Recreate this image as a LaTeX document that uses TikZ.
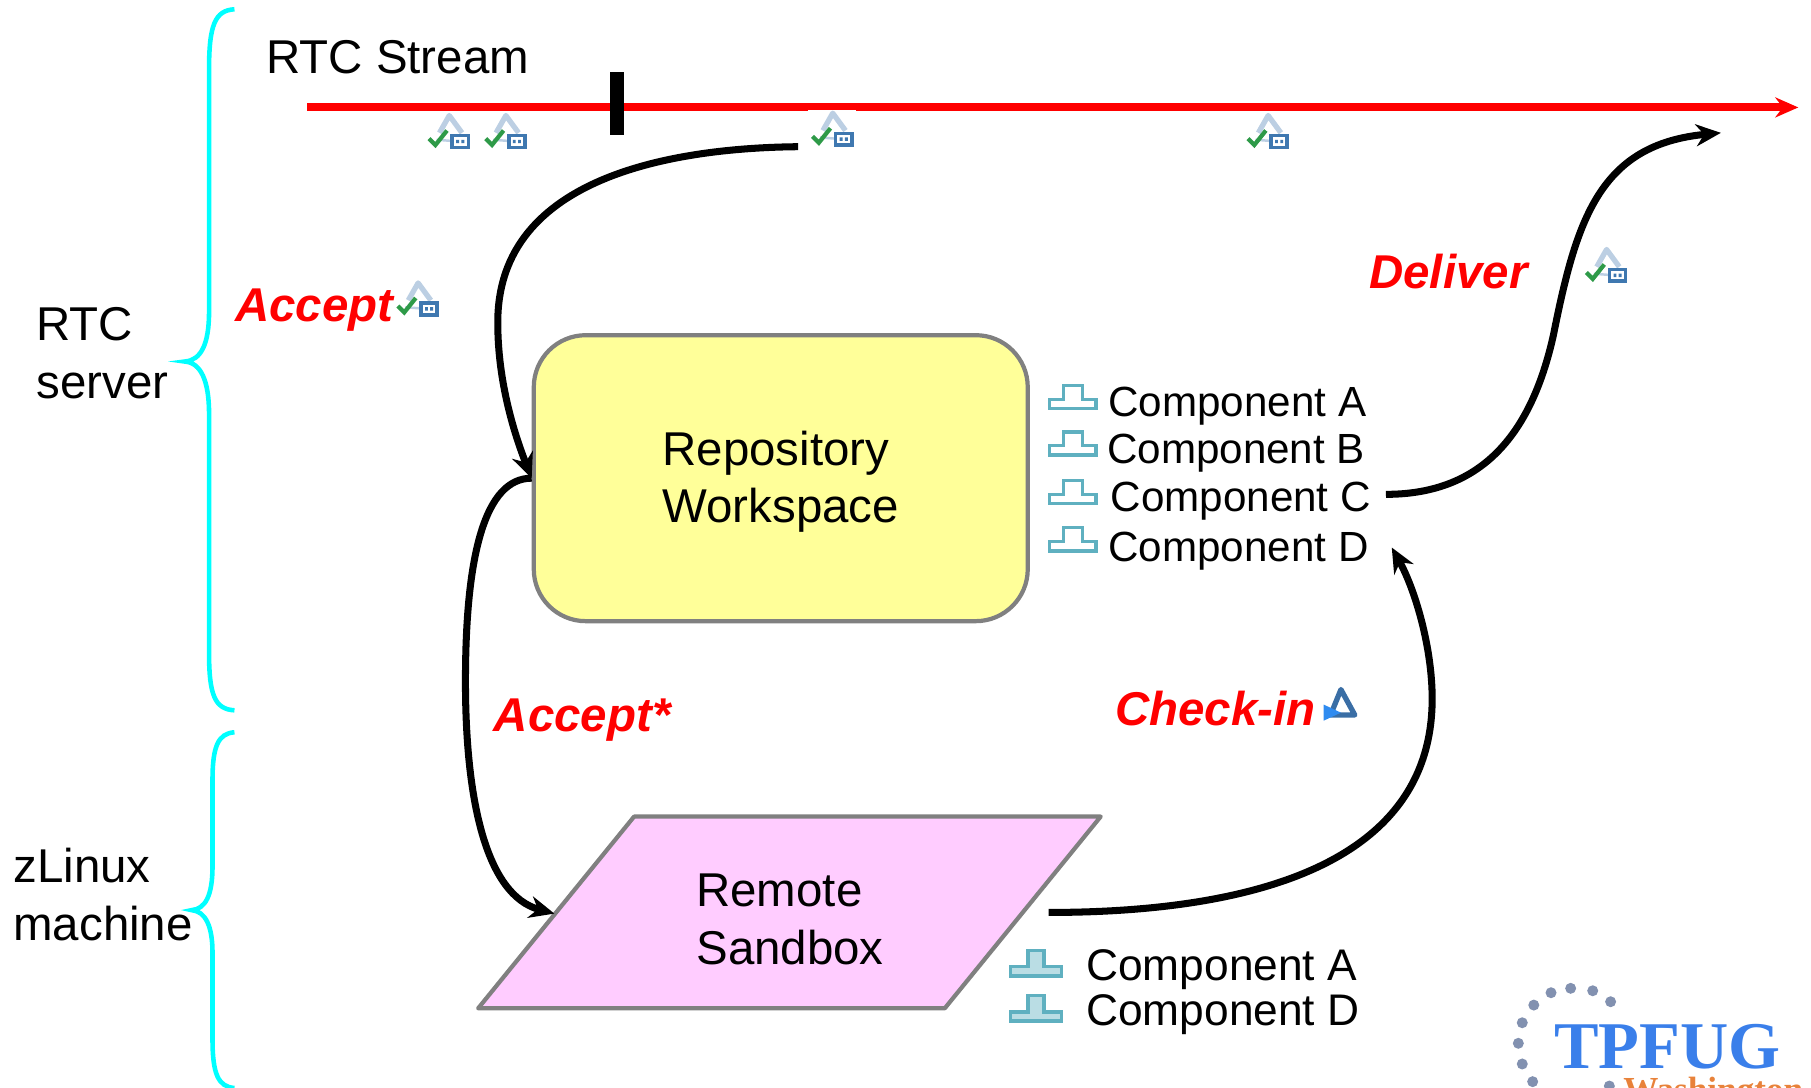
\documentclass[tikz,border=0pt]{standalone}
\usepackage{fontspec}
\setmainfont{Liberation Sans}
\usetikzlibrary{arrows.meta}
\definecolor{bracecyan}{RGB}{0,255,255}
\definecolor{wsyellow}{HTML}{FFFF99}
\definecolor{sbpink}{HTML}{FFCCFF}
\definecolor{compteal}{HTML}{5FB0C0}
\definecolor{compfill}{HTML}{BADDE4}
\definecolor{csgrey}{HTML}{BCCFE3}
\definecolor{csblue}{HTML}{3F78B0}
\definecolor{csgreen}{HTML}{2E9A48}
\definecolor{cidark}{HTML}{3A6EA5}
\definecolor{ciblue}{HTML}{2F8BF0}
\definecolor{logoblue}{HTML}{3A7FEA}
\definecolor{logodot}{HTML}{8291B0}
\definecolor{logoorange}{HTML}{E8823A}

\begin{document}
\begin{tikzpicture}[
	x=0.01155cm, y=-0.01155cm,
	plaintxt/.style={inner sep=0, anchor=base west, font=\fontsize{13.5}{16.4}\selectfont, align=left},
	actiontxt/.style={inner sep=0, anchor=base west, text=red, font=\fontsize{13.5}{16}\selectfont\bfseries\itshape},
	comptxt/.style={inner sep=0, anchor=base west, font=\fontsize{12}{14}\selectfont},
	sidebrace/.style={draw=bracecyan, line width=1.3pt},
	flow/.style={draw=black, line width=2pt, -{Stealth[length=0.25cm, width=0.22cm]}},
	changeset/.pic={
		\draw [draw=csgrey, line width=1.5pt, line join=round] (9.5,16) -- (18,1) -- (29,16);
		\draw [draw=csgrey, line width=0.7pt] (7,22) -- (20,23);
		\draw [draw=csblue, fill=white, line width=1pt] (20.5,18.5) rectangle (34.5,28.5);
		\fill [csblue] (24,22) rectangle (26.5,25) (28.5,22) rectangle (31,25);
		\draw [draw=csgreen, line width=1.2pt] (0.5,21) -- (6,26.5) -- (16,14);
	},
	compicon/.pic={
		\draw [draw=compteal, fill=white, line width=0.9pt] (-20,10) -- (-20,2) -- (-8,2) -- (-8,-10) -- (8,-10) -- (8,2) -- (20,2) -- (20,10) -- cycle;
	},
	compfilled/.pic={
		\draw [draw=compteal, fill=compfill, line width=1pt] (-22,11) -- (-22,3) -- (-7,3) -- (-7,-11) -- (7,-11) -- (7,3) -- (22,3) -- (22,11) -- cycle;
	},
	checkinicon/.pic={
		\draw [draw=cidark, line width=1.5pt, line join=round] (6,23) -- (15,1) -- (27,23) -- cycle;
		\fill [ciblue] (0,14) -- (15,21) -- (0,28) -- cycle;
	},
]

\useasboundingbox (0,0) rectangle (1568,942);
\clip (0,0) rectangle (1568,942);

\begin{scope}[]
%%% STREAM
\node [plaintxt] (streamtxt) at (230,64) {RTC Stream};
\coordinate (streamstart) at (266,93);
\coordinate (streamend) at (1557,93);
\draw [draw=red, line width=2.3pt, -{Stealth[length=0.23cm, width=0.2cm]}] (streamstart) -- (streamend);
\fill [white] (700,95) rectangle (741,120);
\fill [black] (528,62) rectangle (540,117);
\pic (csA) at (371,99) {changeset};
\pic (csB) at (420,99) {changeset};
\pic (csC) at (703,97) {changeset};
\pic (csD) at (1080,99) {changeset};
\end{scope}

\begin{scope}[]
%%% BRACES
\draw [sidebrace] (203,8) .. controls (186,9) and (181,22) .. (181,60) -- (181,270) .. controls (181,298) and (174,312) .. (160,313) .. controls (174,314) and (181,330) .. (181,358) -- (181,565) .. controls (181,602) and (186,614) .. (203,615);
\draw [sidebrace] (203,634) .. controls (189,635) and (184,646) .. (184,675) -- (184,750) .. controls (184,775) and (178,787) .. (166,788) .. controls (178,789) and (184,802) .. (184,825) -- (184,900) .. controls (184,930) and (189,941) .. (203,942);
\node [plaintxt] (server) at (31,345) {RTC\\server};
\node [plaintxt] (machine) at (11,814) {zLinux\\machine};
\end{scope}

\begin{scope}[]
%%% WORKSPACE
\node [draw=black!50, fill=wsyellow, line width=1.2pt, rounded corners=0.52cm,
	minimum width=4.94cm, minimum height=2.86cm] (workspace) at (676,414) {};
\node [inner sep=0, align=left, font=\fontsize{13.5}{16.4}\selectfont] (workspacetxt) at (676,417) {Repository\\Workspace};
\pic (iconA) at (929,344) {compicon};
\pic (iconB) at (929,384) {compicon};
\pic (iconC) at (929,426) {compicon};
\pic (iconD) at (929,467) {compicon};
\node [comptxt] (compA) at (959,361) {Component A};
\node [comptxt] (compB) at (958,401) {Component B};
\node [comptxt] (compC) at (961,443) {Component C};
\node [comptxt] (compD) at (959,486) {Component D};
\end{scope}

\begin{scope}[]
%%% SANDBOX
\draw [draw=black!50, fill=sbpink, line width=1.2pt, line join=round] (549,707) -- (953,707) -- (818,873) -- (414,873) -- cycle;
\node [inner sep=0, align=left, font=\fontsize{13.5}{16.4}\selectfont] (sandbox) at (684,796) {Remote\\Sandbox};
\pic (iconE) at (897,834) {compfilled};
\pic (iconF) at (897,873) {compfilled};
\node [comptxt, font=\fontsize{12.6}{15}\selectfont] (compE) at (940,849) {Component A};
\node [comptxt, font=\fontsize{12.6}{15}\selectfont] (compF) at (940,888) {Component D};
\end{scope}

\begin{scope}[]
%%% FLOWS
\coordinate (acceptstart) at (691,127);
\coordinate (sandboxin) at (480,791);
\coordinate (sandboxout) at (908,790);
\coordinate (compout) at (1200,428);
\coordinate (compin) at (1205,474);
\coordinate (deliverend) at (1490,115);
\draw [flow] (acceptstart) .. controls (590,128) and (430,150) .. (431,280) .. controls (431,330) and (445,375) .. (workspace.west);
\draw [flow] (workspace.west) .. controls (420,414) and (403,480) .. (403,590) .. controls (403,690) and (420,775) .. (sandboxin);
\draw [flow] (sandboxout) .. controls (1080,790) and (1240,750) .. (1240,605) .. controls (1240,560) and (1225,510) .. (compin);
\draw [flow] (compout) .. controls (1280,428) and (1325,380) .. (1345,290) .. controls (1365,190) and (1385,125) .. (deliverend);
\node [actiontxt] (accept) at (203,278) {Accept};
\node [actiontxt] (acceptstar) at (427,633) {Accept*};
\node [actiontxt] (checkin) at (965,628) {Check-in};
\node [actiontxt] (deliver) at (1185,250) {Deliver};
\pic (csE) at (344,244) {changeset};
\pic (csF) at (1373,215) {changeset};
\pic (ciA) at (1146,596) {checkinicon};
\end{scope}

\begin{scope}[]
%%% LOGO
\foreach \dotx/\doty in {1314.6/903.3, 1318/885.5, 1318/921.2, 1328/870.2, 1342.9/859.5, 1359.9/855.7, 1379/857.8, 1394.5/867.3, 1327/936.5, 1393.4/940.3}
	\fill [logodot] (\dotx,\doty) circle (0.055cm);
\node [inner sep=0, anchor=base west, text=logoblue, font=\fontsize{19}{20}\selectfont\bfseries] (tpfug) at (1345,925) {\fontspec{Liberation Serif}TPFUG};
\node [inner sep=0, anchor=base west, text=logoorange, font=\fontsize{10}{12}\selectfont\bfseries] (washington) at (1405,954) {\fontspec{Liberation Serif}Washington};
\end{scope}

\end{tikzpicture}
\end{document}
